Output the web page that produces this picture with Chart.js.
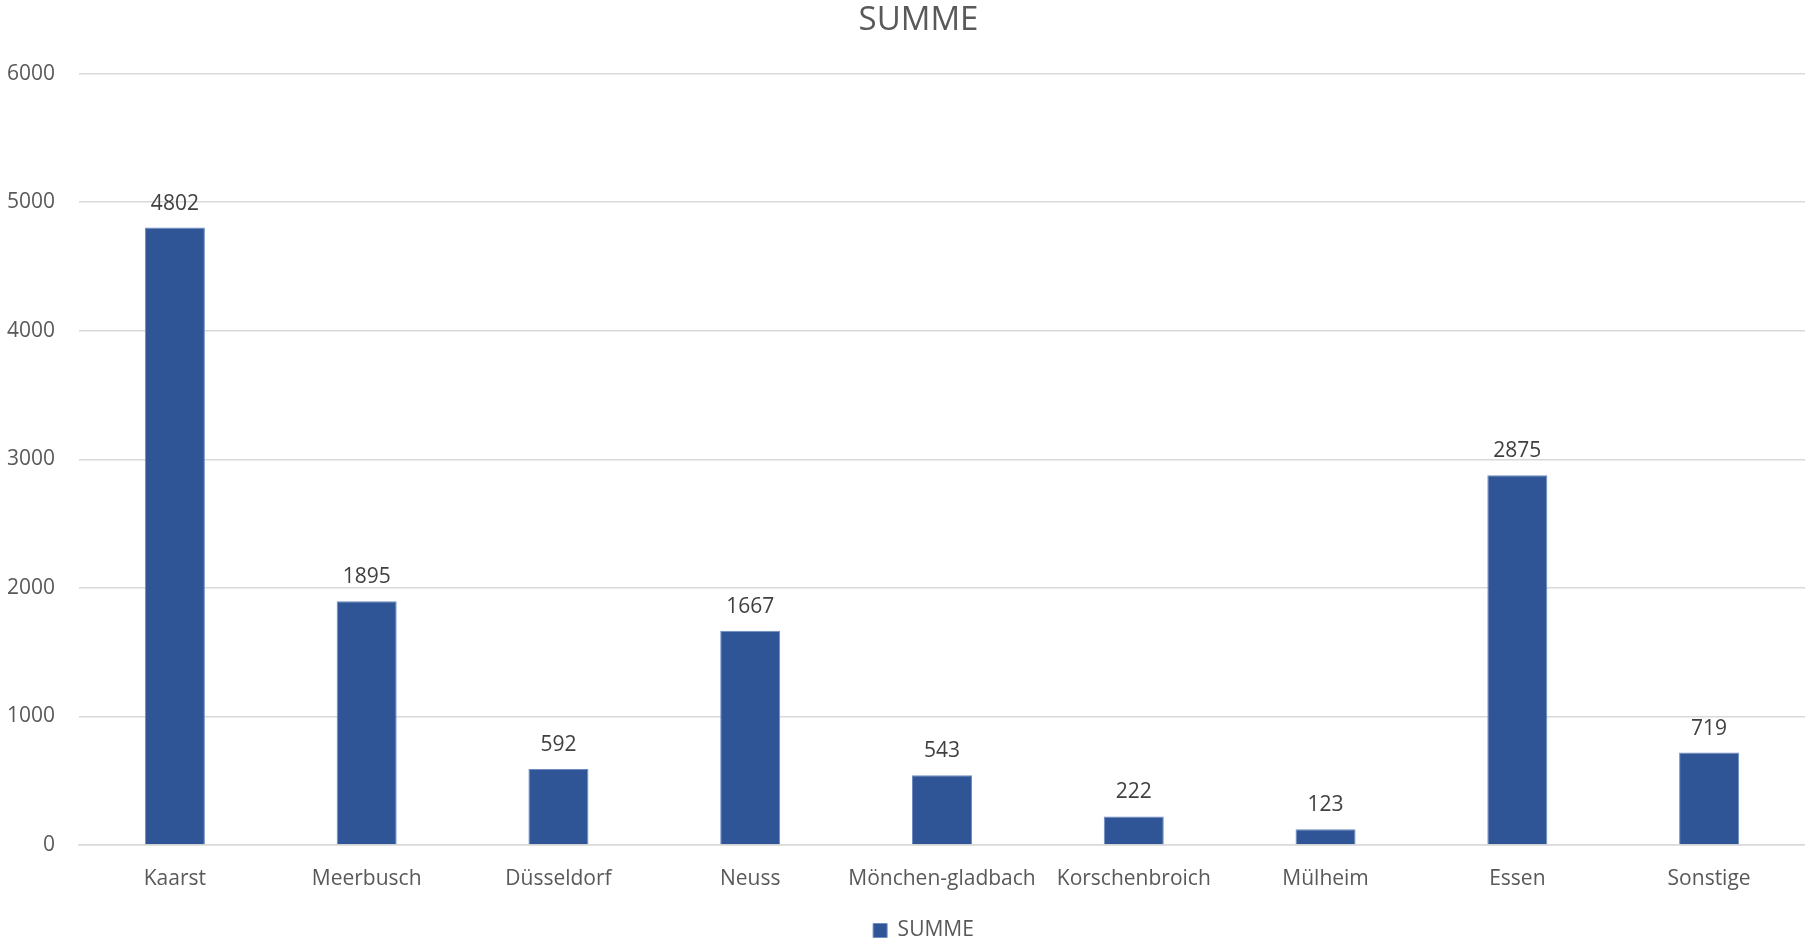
<!DOCTYPE html>
<html>
<head>
<meta charset="utf-8">
<script src="https://cdn.jsdelivr.net/npm/chart.js@4"></script>
<style>
  html, body { margin: 0; padding: 0; background: #fff; }
  #wrap { width: 1805px; height: 944px; }
</style>
</head>
<body>
<div id="wrap"><canvas id="chart" width="1805" height="944"></canvas></div>
<script>
const categories = ['Kaarst', 'Meerbusch', 'Düsseldorf', 'Neuss', 'Mönchen-gladbach', 'Korschenbroich', 'Mülheim', 'Essen', 'Sonstige'];
const summe = [4802, 1895, 592, 1667, 543, 222, 123, 2875, 719];
const yTicks = [0, 1000, 2000, 3000, 4000, 5000, 6000];

const FONT = "'Open Sans', 'Noto Sans', sans-serif";

// draws the value above each bar
const valueLabels = {
  id: 'valueLabels',
  afterDatasetsDraw(chart) {
    const ctx = chart.ctx;
    ctx.save();
    ctx.font = '21px ' + FONT;
    ctx.fillStyle = '#404040';
    ctx.textAlign = 'center';
    ctx.textBaseline = 'middle';
    chart.getDatasetMeta(0).data.forEach((bar, i) => {
      ctx.fillText(String(summe[i]), bar.x, bar.y - 24);
    });
    ctx.restore();
  }
};

// nudge title and legend a bit right/down like the original
const boxShift = {
  id: 'boxShift',
  afterLayout(chart) {
    const lg = chart.legend;
    lg.left += 21; lg.right += 21;
    lg.top += 7; lg.bottom += 7;
    const tb = chart.titleBlock;
    tb.left += 16; tb.right += 16;
  }
};

new Chart(document.getElementById('chart'), {
  type: 'bar',
  data: {
    labels: categories,
    datasets: [{
      label: 'SUMME',
      data: summe,
      backgroundColor: '#2F5597',
      borderColor: '#6F8DC0',
      borderWidth: 1,
      categoryPercentage: 1,
      barPercentage: 0.313
    }]
  },
  options: {
    responsive: false,
    animation: false,
    plugins: {
      title: {
        display: true,
        text: 'SUMME',
        color: '#595959',
        font: { family: FONT, size: 33, weight: 'normal' },
        padding: { top: 1, bottom: 33 }
      },
      legend: {
        display: true,
        position: 'bottom',
        labels: {
          color: '#595959',
          font: { family: FONT, size: 21 },
          boxWidth: 14,
          boxHeight: 14,
          padding: 6
        }
      },
      tooltip: { enabled: false }
    },
    scales: {
      x: {
        grid: { display: false },
        border: { color: '#d9d9d9', width: 1.5 },
        ticks: { color: '#595959', font: { family: FONT, size: 21 }, padding: 13, maxRotation: 0 },
        afterFit(scale) { scale.height = 944 - 845 - scale.chart.legend.height; }
      },
      y: {
        min: 0,
        max: 6000,
        afterBuildTicks(scale) { scale.ticks = yTicks.map(v => ({ value: v })); },
        grid: { color: '#d9d9d9', lineWidth: 1.5, drawTicks: false },
        border: { display: false },
        ticks: { color: '#595959', font: { family: FONT, size: 21 }, padding: 24, callback: v => String(v) },
        afterFit(scale) { scale.width = 79; }
      }
    }
  },
  plugins: [valueLabels, boxShift]
});
</script>
</body>
</html>
